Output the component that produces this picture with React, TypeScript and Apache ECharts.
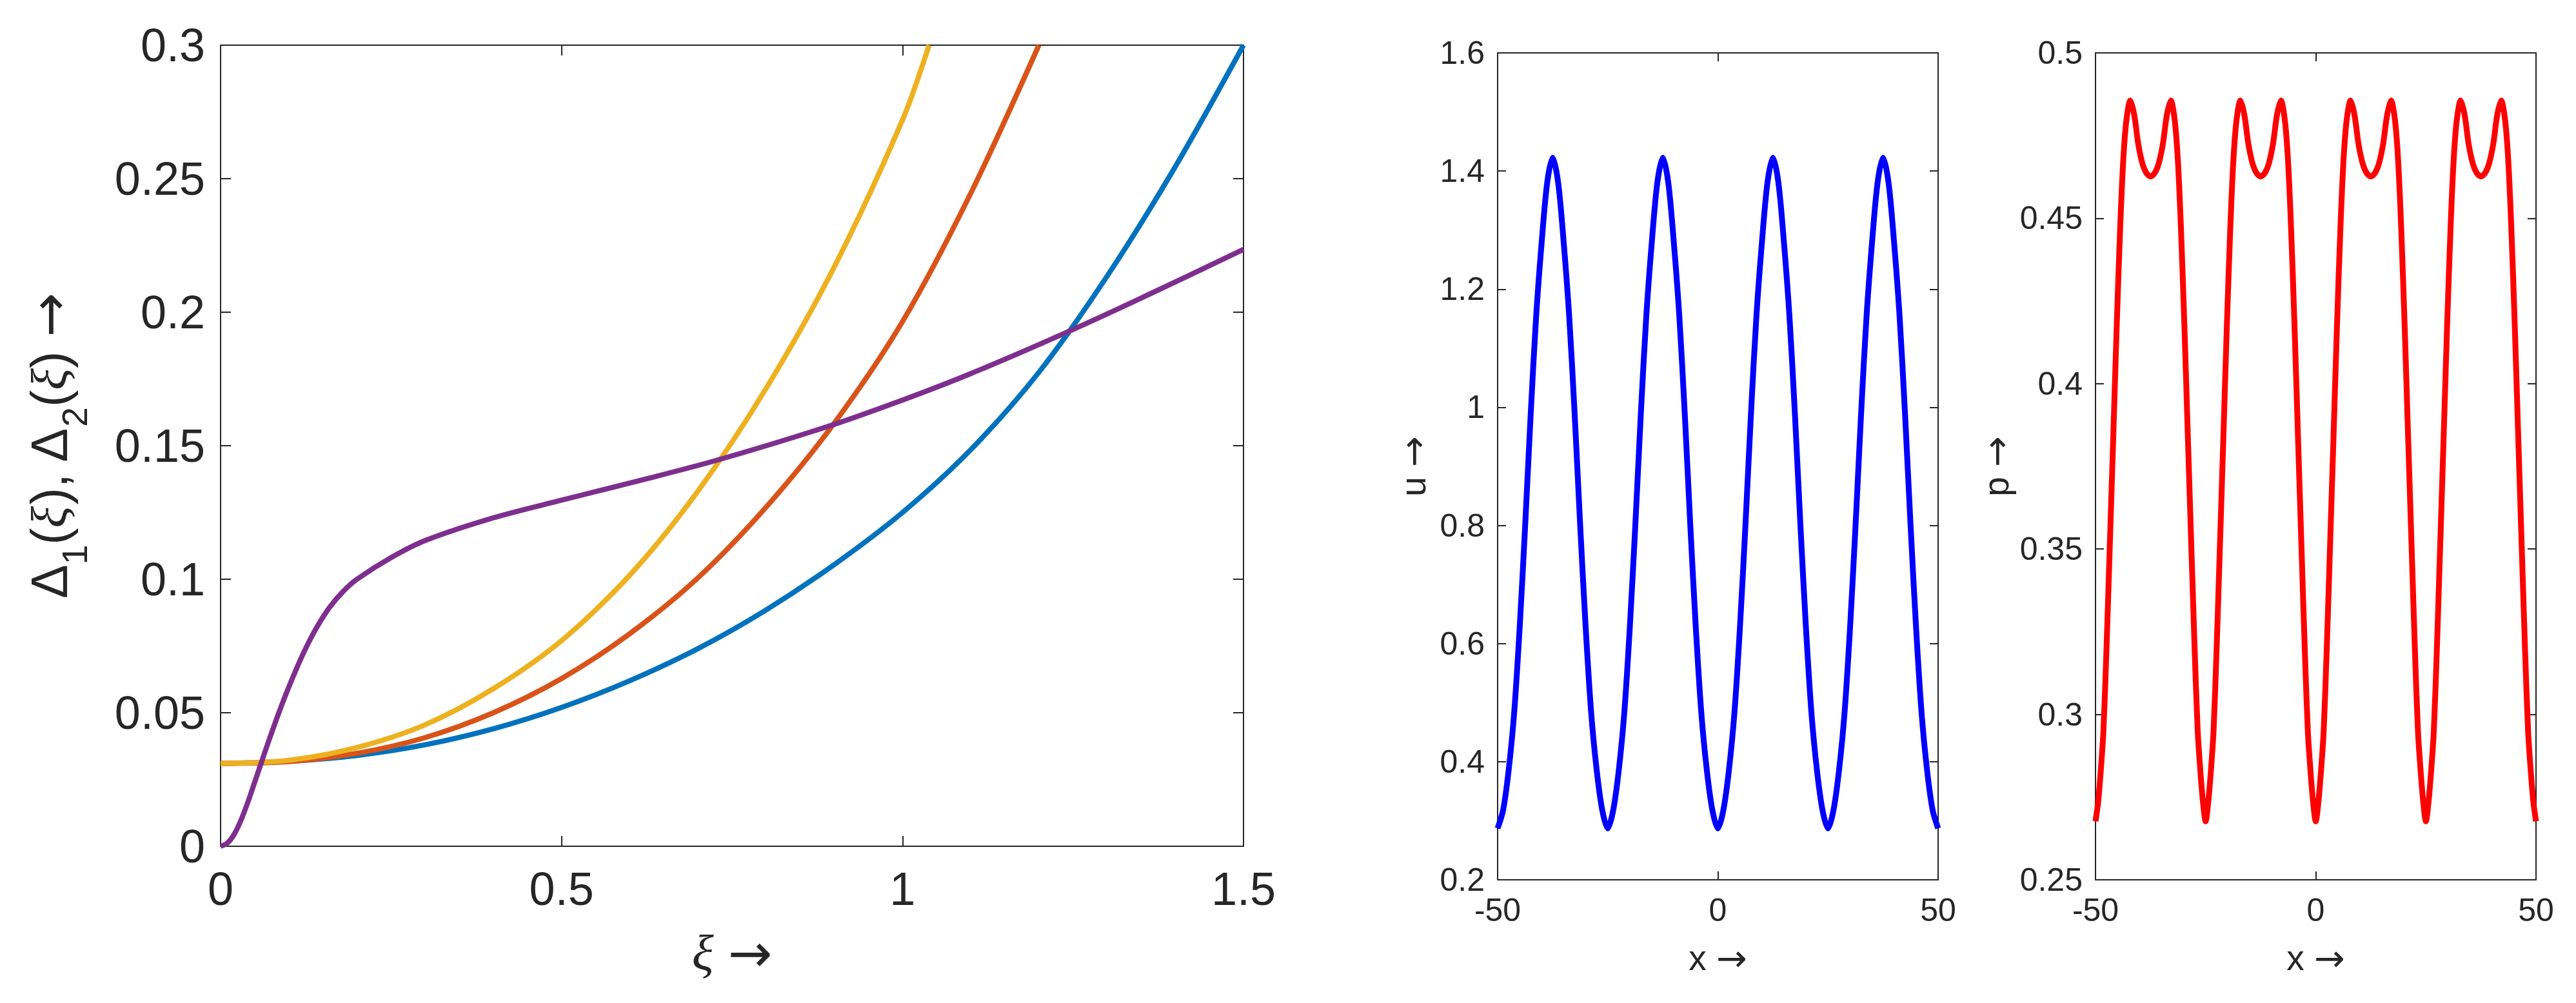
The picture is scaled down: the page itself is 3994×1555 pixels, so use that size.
import { useEffect, useRef } from 'react'
import * as echarts from 'echarts'

// left panel: Δ1(ξ), Δ2(ξ) curves, [ξ, value]
const curveBlue = [
  [0, 0.031], [0.1, 0.0318], [0.2, 0.034], [0.3, 0.038], [0.4, 0.044], [0.5, 0.052],
  [0.6, 0.062], [0.7, 0.074], [0.8, 0.0885], [0.9, 0.1055], [1.0, 0.125], [1.1, 0.1485],
  [1.2, 0.1775], [1.3, 0.2135], [1.4, 0.2545], [1.5, 0.3],
]
const curveOrange = [
  [0, 0.031], [0.1, 0.0317], [0.2, 0.0348], [0.3, 0.0407], [0.4, 0.05], [0.5, 0.0628],
  [0.6, 0.0796], [0.7, 0.1005], [0.8, 0.127], [0.9, 0.1585], [1.0, 0.1965], [1.1, 0.2445],
  [1.2, 0.3],
]
const curveYellow = [
  [0, 0.031], [0.1, 0.0322], [0.2, 0.037], [0.3, 0.0455], [0.4, 0.059], [0.5, 0.077],
  [0.6, 0.1015], [0.7, 0.133], [0.8, 0.1715], [0.9, 0.217], [1.0, 0.272], [1.039, 0.3],
]
const curvePurple = [
  [0, 0], [0.01, 0.0012], [0.02, 0.0045], [0.03, 0.0098], [0.04, 0.0165], [0.05, 0.024],
  [0.06, 0.0315], [0.07, 0.039], [0.085, 0.0497], [0.1, 0.0596], [0.12, 0.0715], [0.14, 0.0815],
  [0.16, 0.0895], [0.18, 0.0955], [0.2, 0.1], [0.25, 0.1081], [0.3, 0.1145], [0.4, 0.123],
  [0.5, 0.1296], [0.6, 0.136], [0.727, 0.1445], [0.888, 0.157], [1.0, 0.1671], [1.1, 0.177],
  [1.234, 0.1917], [1.35, 0.2053], [1.5, 0.2235],
]

// middle panel: u(x)
const uX = [
  -50, -48.75, -47.5, -46.25, -45, -43.75, -42.5, -41.25, -40, -38.75, -37.5, -36.25, -35, -33.75, -32.5, -31.25, -30, -28.75, -27.5, -26.25,
  -25, -23.75, -22.5, -21.25, -20, -18.75, -17.5, -16.25, -15, -13.75, -12.5, -11.25, -10, -8.75, -7.5, -6.25, -5, -3.75, -2.5, -1.25,
  0, 1.25, 2.5, 3.75, 5, 6.25, 7.5, 8.75, 10, 11.25, 12.5, 13.75, 15, 16.25, 17.5, 18.75, 20, 21.25, 22.5, 23.75,
  25, 26.25, 27.5, 28.75, 30, 31.25, 32.5, 33.75, 35, 36.25, 37.5, 38.75, 40, 41.25, 42.5, 43.75, 45, 46.25, 47.5, 48.75,
  50,
]
const uY = [
  0.287, 0.318, 0.385, 0.482, 0.626, 0.799, 0.987, 1.154, 1.279, 1.38, 1.4226, 1.38, 1.279, 1.154, 0.987, 0.799, 0.626, 0.482, 0.385, 0.318,
  0.287, 0.318, 0.385, 0.482, 0.626, 0.799, 0.987, 1.154, 1.279, 1.38, 1.4226, 1.38, 1.279, 1.154, 0.987, 0.799, 0.626, 0.482, 0.385, 0.318,
  0.287, 0.318, 0.385, 0.482, 0.626, 0.799, 0.987, 1.154, 1.279, 1.38, 1.4226, 1.38, 1.279, 1.154, 0.987, 0.799, 0.626, 0.482, 0.385, 0.318,
  0.287, 0.318, 0.385, 0.482, 0.626, 0.799, 0.987, 1.154, 1.279, 1.38, 1.4226, 1.38, 1.279, 1.154, 0.987, 0.799, 0.626, 0.482, 0.385, 0.318,
  0.287,
]

// right panel: p(x)
const pX = [
  -50, -49.4, -48.8, -48.2, -47.5, -46.8, -46, -45.2, -44.4, -43.7, -43, -42.1, -41.2, -40.3, -39.4, -38.5,
  -37.5, -36.5, -35.6, -34.7, -33.8, -32.9, -32, -31.3, -30.6, -29.8, -29, -28.2, -27.5, -26.8, -26.2, -25.6,
  -25, -24.4, -23.8, -23.2, -22.5, -21.8, -21, -20.2, -19.4, -18.7, -18, -17.1, -16.2, -15.3, -14.4, -13.5,
  -12.5, -11.5, -10.6, -9.7, -8.8, -7.9, -7, -6.3, -5.6, -4.8, -4, -3.2, -2.5, -1.8, -1.2, -0.6,
  0, 0.6, 1.2, 1.8, 2.5, 3.2, 4, 4.8, 5.6, 6.3, 7, 7.9, 8.8, 9.7, 10.6, 11.5,
  12.5, 13.5, 14.4, 15.3, 16.2, 17.1, 18, 18.7, 19.4, 20.2, 21, 21.8, 22.5, 23.2, 23.8, 24.4,
  25, 25.6, 26.2, 26.8, 27.5, 28.2, 29, 29.8, 30.6, 31.3, 32, 32.9, 33.8, 34.7, 35.6, 36.5,
  37.5, 38.5, 39.4, 40.3, 41.2, 42.1, 43, 43.7, 44.4, 45.2, 46, 46.8, 47.5, 48.2, 48.8, 49.4,
  50,
]
const pY = [
  0.2677, 0.2735, 0.283, 0.295, 0.32, 0.349, 0.3825, 0.4167, 0.447, 0.4675, 0.4795, 0.4856, 0.4812, 0.4725, 0.4668, 0.4638,
  0.4626, 0.4638, 0.4668, 0.4725, 0.4812, 0.4856, 0.4795, 0.4675, 0.447, 0.4167, 0.3825, 0.349, 0.32, 0.295, 0.283, 0.2735,
  0.2677, 0.2735, 0.283, 0.295, 0.32, 0.349, 0.3825, 0.4167, 0.447, 0.4675, 0.4795, 0.4856, 0.4812, 0.4725, 0.4668, 0.4638,
  0.4626, 0.4638, 0.4668, 0.4725, 0.4812, 0.4856, 0.4795, 0.4675, 0.447, 0.4167, 0.3825, 0.349, 0.32, 0.295, 0.283, 0.2735,
  0.2677, 0.2735, 0.283, 0.295, 0.32, 0.349, 0.3825, 0.4167, 0.447, 0.4675, 0.4795, 0.4856, 0.4812, 0.4725, 0.4668, 0.4638,
  0.4626, 0.4638, 0.4668, 0.4725, 0.4812, 0.4856, 0.4795, 0.4675, 0.447, 0.4167, 0.3825, 0.349, 0.32, 0.295, 0.283, 0.2735,
  0.2677, 0.2735, 0.283, 0.295, 0.32, 0.349, 0.3825, 0.4167, 0.447, 0.4675, 0.4795, 0.4856, 0.4812, 0.4725, 0.4668, 0.4638,
  0.4626, 0.4638, 0.4668, 0.4725, 0.4812, 0.4856, 0.4795, 0.4675, 0.447, 0.4167, 0.3825, 0.349, 0.32, 0.295, 0.283, 0.2735,
  0.2677,
]

const INK = '#262626'
const SANS = "'Liberation Sans', Arial, Helvetica, sans-serif"
const SERIF = "'Liberation Serif', 'DejaVu Serif', serif"
const ARROW = "'DejaVu Sans', sans-serif"

const frameLine = { show: true, onZero: false, lineStyle: { color: INK, width: 2 } }

function axisPair(
  dim: 'x' | 'y',
  grid: number,
  min: number,
  max: number,
  interval: number,
  fontSize: number,
  tickLen: number,
  margin: number,
  name: string,
  nameGap: number,
  nameTextStyle: any,
) {
  const tick = { show: true, inside: true, length: tickLen, lineStyle: { color: INK, width: 2 } }
  const common = { type: 'value', gridIndex: grid, min, max, interval, axisLine: frameLine, axisTick: tick, splitLine: { show: false } }
  return [
    {
      ...common,
      position: dim === 'x' ? 'bottom' : 'left',
      axisLabel: { show: true, color: INK, fontSize, fontFamily: SANS, margin },
      name,
      nameLocation: 'middle',
      nameGap,
      nameTextStyle,
    },
    { ...common, position: dim === 'x' ? 'top' : 'right', axisLabel: { show: false } },
  ]
}

const zip = (xs: number[], ys: number[]) => xs.map((x, i) => [x, ys[i]])

export default function App() {
  const chartRef = useRef<HTMLDivElement>(null)

  useEffect(() => {
    document.body.style.margin = '0'
    if (!chartRef.current) return
    const chart = echarts.init(chartRef.current, undefined, { renderer: 'svg' })

    const bigName = {
      color: INK,
      fontSize: 79,
      fontFamily: SANS,
      rich: {
        m: { fontSize: 79, fontFamily: SANS, color: INK, lineHeight: 134 },
        i: { fontSize: 79, fontFamily: SERIF, fontStyle: 'italic', color: INK, lineHeight: 134 },
        a: { fontSize: 82, fontFamily: ARROW, color: INK, lineHeight: 134 },
        s: { fontSize: 55, fontFamily: SANS, color: INK, lineHeight: 40, verticalAlign: 'bottom' },
      },
    }
    const smallName = {
      color: INK,
      fontSize: 55,
      fontFamily: SANS,
      rich: {
        m: { fontSize: 55, fontFamily: SANS, color: INK },
        a: { fontSize: 57, fontFamily: ARROW, color: INK },
      },
    }

    const line = (data: number[][], color: string, width: number, axis: number) => ({
      type: 'line',
      data,
      xAxisIndex: axis * 2,
      yAxisIndex: axis * 2,
      showSymbol: false,
      smooth: 0.3,
      lineStyle: { color, width },
      itemStyle: { color },
    })

    chart.setOption({
      animation: false,
      backgroundColor: '#ffffff',
      grid: [
        { left: 342, top: 70, width: 1586, height: 1242 },
        { left: 2322, top: 82, width: 683, height: 1282 },
        { left: 3249, top: 82, width: 683, height: 1282 },
      ],
      xAxis: [
        ...axisPair('x', 0, 0, 1.5, 0.5, 72, 16, 30, '{i|ξ} {a|→}', 98, bigName),
        ...axisPair('x', 1, -50, 50, 50, 50, 13, 22, '{m|x} {a|→}', 92, smallName),
        ...axisPair('x', 2, -50, 50, 50, 50, 13, 22, '{m|x} {a|→}', 92, smallName),
      ],
      yAxis: [
        ...axisPair('y', 0, 0, 0.3, 0.05, 72, 16, 24, '{m|Δ}{s|1}{m|(}{i|ξ}{m|), Δ}{s|2}{m|(}{i|ξ}{m|) }{a|→}', 199, bigName),
        ...axisPair('y', 1, 0.2, 1.6, 0.2, 50, 13, 20, '{m|u} {a|→}', 103, smallName),
        ...axisPair('y', 2, 0.25, 0.5, 0.05, 50, 13, 20, '{m|p} {a|→}', 126, smallName),
      ],
      series: [
        line(curveBlue, '#0072BD', 8, 0),
        line(curveOrange, '#D95319', 8, 0),
        line(curveYellow, '#EDB120', 8, 0),
        line(curvePurple, '#7E2F8E', 8, 0),
        line(zip(uX, uY), '#0000FF', 9, 1),
        line(zip(pX, pY), '#FF0000', 9, 2),
      ],
    })

    return () => {
      chart.dispose()
    }
  }, [])

  return <div ref={chartRef} style={{ width: '3994px', height: '1555px' }}></div>
}
